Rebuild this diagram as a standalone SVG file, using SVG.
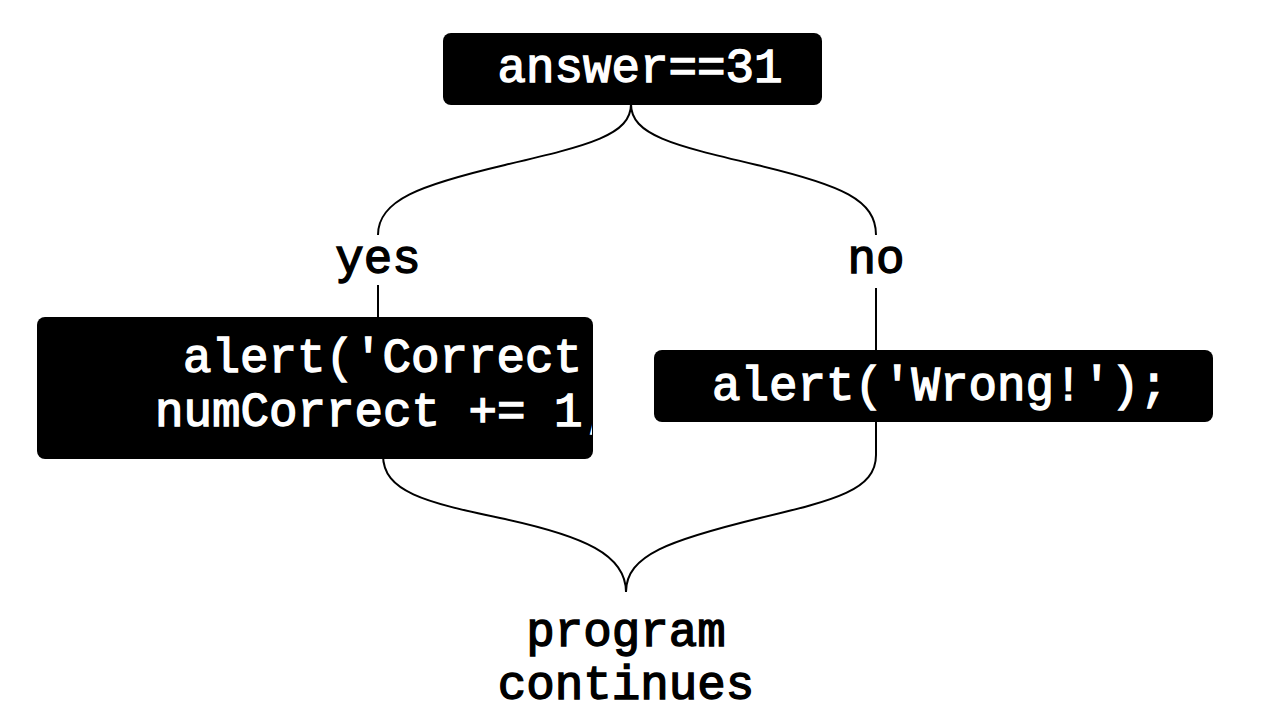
<svg xmlns="http://www.w3.org/2000/svg" width="1277" height="723" viewBox="0 0 1277 723">
<style>
.box{fill:#000;}
.t{font-family:"Liberation Mono","Courier New",monospace;font-weight:normal;font-size:47.5px;stroke-width:1.4;}
.w{fill:#fff;stroke:#fff;}
.k{fill:#000;stroke:#000;}
.c{fill:none;stroke:#000;stroke-width:2;}
</style>
<defs>
<clipPath id="clipLeft"><rect x="37" y="317" width="555" height="142" rx="8"/></clipPath>
</defs>
<rect width="1277" height="723" fill="#fff"/>
<g id="connectors">
<path class="c" d="M631,104 C631,135 590,145 505,165 C420,185 378,200 378,235"/>
<path class="c" d="M631,104 C631,135 672,145 757,165 C842,185 876,200 876,235"/>
<path class="c" d="M378,285 L378,320"/>
<path class="c" d="M876,288 L876,455 C876,490 835,500 760,518 C670,540 626,555 626,592"/>
<path class="c" d="M383,455 C383,492 425,502 500,518 C585,536 626,555 626,592"/>
</g>
<g id="labels">
<text class="t k" x="378" y="273" text-anchor="middle">yes</text>
<text class="t k" x="876" y="273" text-anchor="middle">no</text>
</g>
<g id="node-condition">
<rect class="box" x="443" y="33" width="379" height="72" rx="8"/>
<text class="t w" x="640" y="82" text-anchor="middle">answer==31</text>
</g>
<g id="node-yes">
<rect class="box" x="37" y="317" width="556" height="142" rx="8"/>
<g clip-path="url(#clipLeft)">
<text class="t w" x="183" y="372">alert('Correct!');</text>
<text class="t w" x="155" y="426">numCorrect += 1;</text>
</g>
</g>
<g id="node-no">
<rect class="box" x="654" y="350" width="559" height="72" rx="8"/>
<text class="t w" x="940" y="400" text-anchor="middle">alert('Wrong!');</text>
</g>
<g id="node-continue">
<text class="t k" x="626" y="646" text-anchor="middle">program</text>
<text class="t k" x="626" y="699" text-anchor="middle">continues</text>
</g>
</svg>
